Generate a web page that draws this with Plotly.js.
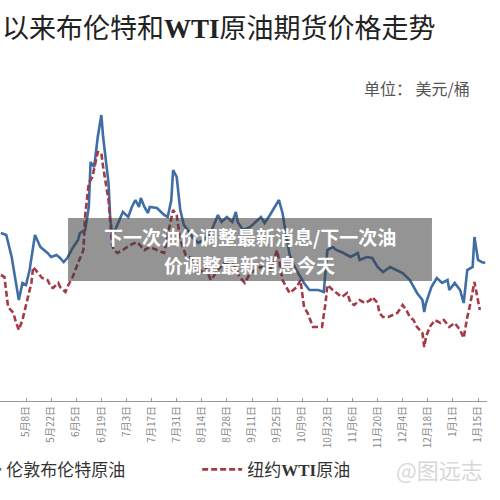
<!DOCTYPE html>
<html>
<head>
<meta charset="utf-8">
<script src="https://cdn.plot.ly/plotly-3.0.1.min.js"></script>
<style>html,body{margin:0;padding:0;background:#fff;}#chart{width:500px;height:500px;}</style>
</head>
<body>
<div id="chart"></div>
<script>
const brentDates = ['2022-04-24','2022-04-27','2022-04-30','2022-05-02','2022-05-04','2022-05-06','2022-05-08','2022-05-10','2022-05-12','2022-05-13','2022-05-15','2022-05-16','2022-05-18','2022-05-20','2022-05-22','2022-05-25','2022-05-27','2022-05-29','2022-05-31','2022-06-03','2022-06-06','2022-06-07','2022-06-10','2022-06-12','2022-06-13','2022-06-15','2022-06-17','2022-06-19','2022-06-20','2022-06-23','2022-06-24','2022-06-25','2022-06-26','2022-06-28','2022-07-01','2022-07-04','2022-07-06','2022-07-08','2022-07-10','2022-07-11','2022-07-13','2022-07-15','2022-07-16','2022-07-20','2022-07-24','2022-07-26','2022-07-28','2022-07-29','2022-07-31','2022-08-02','2022-08-04','2022-08-07','2022-08-09','2022-08-12','2022-08-15','2022-08-18','2022-08-20','2022-08-23','2022-08-25','2022-08-28','2022-08-31','2022-09-02','2022-09-03','2022-09-06','2022-09-10','2022-09-13','2022-09-16','2022-09-18','2022-09-21','2022-09-26','2022-09-28','2022-09-30','2022-10-02','2022-10-05','2022-10-10','2022-10-13','2022-10-18','2022-10-21','2022-10-23','2022-10-26','2022-10-28','2022-11-01','2022-11-05','2022-11-09','2022-11-10','2022-11-14','2022-11-17','2022-11-20','2022-11-23','2022-11-27','2022-12-01','2022-12-04','2022-12-08','2022-12-12','2022-12-15','2022-12-16','2022-12-17','2022-12-20','2022-12-23','2022-12-26','2022-12-29','2022-12-30','2023-01-02','2023-01-05','2023-01-07','2023-01-09','2023-01-12','2023-01-13','2023-01-15','2023-01-17','2023-01-19'];
const brentValues = [93.6,93.2,88.8,84.8,80.2,83.6,83.2,86.2,90.8,93.2,91.6,90.8,90.2,89.6,88.8,89.2,88.6,87.8,88.6,90.6,92.2,93.6,94.2,98.8,107.8,106.8,112.8,117.2,112.8,103.6,96.2,93.6,93.6,95.2,97.8,96.8,98.8,100.2,98.8,100.6,98.8,97.6,98.8,98.6,97.2,96.8,100.2,106.2,104.8,98.2,95.2,93.8,92.6,91.6,92.2,93.2,94.6,97.2,95.8,96.8,95.8,97.8,95.8,94.2,94.8,95.8,96.8,95.6,97.2,100.2,97.6,93.2,89.2,86.6,83.6,82.2,82.2,81.8,90.2,90.8,90.2,89.6,88.8,89.6,88.2,88.8,88.6,86.8,85.8,86.8,86.2,85.6,84.2,81.6,80.2,77.8,79.6,82.8,84.6,83.6,84.2,82.2,83.6,82.2,79.6,86.2,86.8,92.8,88.2,87.8,87.6];

const wtiDates = ['2022-04-24','2022-04-26','2022-04-28','2022-05-01','2022-05-02','2022-05-04','2022-05-06','2022-05-07','2022-05-09','2022-05-11','2022-05-12','2022-05-15','2022-05-17','2022-05-20','2022-05-22','2022-05-23','2022-05-26','2022-05-27','2022-05-30','2022-05-31','2022-06-03','2022-06-06','2022-06-09','2022-06-10','2022-06-12','2022-06-14','2022-06-16','2022-06-17','2022-06-19','2022-06-20','2022-06-23','2022-06-24','2022-06-25','2022-06-26','2022-06-28','2022-07-01','2022-07-05','2022-07-09','2022-07-13','2022-07-16','2022-07-20','2022-07-24','2022-07-26','2022-07-29','2022-07-31','2022-08-02','2022-08-05','2022-08-08','2022-08-10','2022-08-13','2022-08-16','2022-08-19','2022-08-23','2022-08-27','2022-09-01','2022-09-04','2022-09-07','2022-09-10','2022-09-16','2022-09-21','2022-09-25','2022-09-28','2022-10-01','2022-10-02','2022-10-06','2022-10-08','2022-10-10','2022-10-12','2022-10-15','2022-10-17','2022-10-20','2022-10-22','2022-10-23','2022-10-26','2022-10-28','2022-10-31','2022-11-03','2022-11-05','2022-11-07','2022-11-10','2022-11-13','2022-11-16','2022-11-17','2022-11-20','2022-11-21','2022-11-23','2022-11-26','2022-11-29','2022-12-01','2022-12-04','2022-12-06','2022-12-08','2022-12-10','2022-12-12','2022-12-15','2022-12-16','2022-12-17','2022-12-19','2022-12-22','2022-12-25','2022-12-27','2022-12-30','2023-01-02','2023-01-05','2023-01-07','2023-01-09','2023-01-10','2023-01-13','2023-01-15','2023-01-16'];
const wtiValues = [85.2,84.8,78.8,77.6,76.2,74.2,76.2,77.6,80.8,83.6,86.8,85.6,84.6,84.2,82.8,82.6,83.6,82.8,81.8,82.8,84.8,87.6,90.2,97.2,103.6,104.8,108.2,109.8,109.6,106.8,100.2,95.2,91.2,90.2,89.6,90.2,91.2,91.8,90.2,90.8,90.2,89.6,93.2,98.2,97.2,92.2,89.2,88.6,87.2,85.6,86.8,84.2,86.2,87.8,87.2,84.8,83.6,85.6,86.8,86.2,90.2,84.2,82.2,81.6,82.8,84.2,78.8,77.6,74.8,74.8,74.8,79.6,83.2,82.2,81.6,80.8,81.6,79.6,79.2,80.2,79.6,80.2,80.8,79.6,77.6,76.8,76.8,77.2,77.6,79.2,78.2,76.8,76.2,74.8,73.6,70.8,72.8,74.8,76.2,75.6,76.2,74.8,75.6,74.2,72.6,76.8,78.2,83.8,79.6,78.2];

const tickDates = ['2022-04-24','2022-05-08','2022-05-22','2022-06-05','2022-06-19','2022-07-03','2022-07-17','2022-07-31','2022-08-14','2022-08-28','2022-09-11','2022-09-25','2022-10-09','2022-10-23','2022-11-06','2022-11-20','2022-12-04','2022-12-18','2023-01-01','2023-01-15'];
const tickLabels = ['4月24日','5月8日','5月22日','6月5日','6月19日','7月3日','7月17日','7月31日','8月14日','8月28日','9月11日','9月25日','10月9日','10月23日','11月6日','11月20日','12月4日','12月18日','1月1日','1月15日'];

const SERIF_B = 'font-family:Liberation Serif, DejaVu Serif, serif;font-weight:bold';
const seriesNames = ['伦敦布伦特原油', '纽约<span style="' + SERIF_B + '">WTI</span>原油'];
const titleText = '以来布伦特和<span style="' + SERIF_B + '">WTI</span>原油期货价格走势';
const unitText = '单位： 美元/桶';
const bannerLine1 = '下一次油价调整最新消息/下一次油';
const bannerLine2 = '价调整最新消息今天';
const watermarkText = '@图远志';

const CJK = '"Noto Sans CJK SC", "Noto Sans", sans-serif';

const traces = [
  {x: brentDates, y: brentValues, name: seriesNames[0], type: 'scatter', mode: 'lines',
   line: {color: '#3f6ea6', width: 2.6}},
  {x: wtiDates, y: wtiValues, name: seriesNames[1], type: 'scatter', mode: 'lines',
   line: {color: '#a33a46', width: 2.6, dash: '6px,3px'}}
];

const layout = {
  width: 500, height: 500,
  margin: {l: 0, r: 13, t: 70, b: 99, autoexpand: false},
  paper_bgcolor: '#fff', plot_bgcolor: '#fff',
  showlegend: true,
  legend: {orientation: 'h', x: -0.09, xanchor: 'left', y: -0.208, yanchor: 'middle',
    font: {family: CJK, size: 17, color: '#333'}, entrywidth: 186, itemwidth: 40},
  xaxis: {type: 'date', range: ['2022-04-23 12:00', '2023-01-20'], showgrid: false, zeroline: false,
    showline: true, linecolor: '#999', linewidth: 1,
    ticks: 'inside', ticklen: 3, tickcolor: '#999',
    tickmode: 'array', tickvals: tickDates, ticktext: tickLabels, tickangle: -90,
    tickfont: {family: CJK, size: 10, color: '#888'}},
  yaxis: {range: [60, 126.2], visible: false, showgrid: false, zeroline: false},
  shapes: [
    {type: 'rect', xref: 'paper', yref: 'paper', x0: 0.1396, x1: 0.887, y0: 0.3625, y1: 0.5529,
     fillcolor: 'rgba(60,60,60,0.55)', line: {width: 0}, layer: 'above'}
  ],
  annotations: [
    {text: titleText, xref: 'paper', yref: 'paper', x: 0.899, y: 1.13, xanchor: 'right', yanchor: 'middle',
     showarrow: false, font: {family: CJK, size: 27, color: '#222'}},
    {text: unitText, xref: 'paper', yref: 'paper', x: 0.97, y: 0.9456, xanchor: 'right', yanchor: 'middle',
     showarrow: false, font: {family: CJK, size: 16, color: '#555'}},
    {text: '<b>' + bannerLine1 + '</b>', xref: 'paper', yref: 'paper', x: 0.5133, y: (401 - 236) / 331, xanchor: 'center', yanchor: 'middle',
     showarrow: false, font: {family: CJK, size: 19, color: '#fff'}},
    {text: '<b>' + bannerLine2 + '</b>', xref: 'paper', yref: 'paper', x: 0.5133, y: (401 - 264) / 331, xanchor: 'center', yanchor: 'middle',
     showarrow: false, font: {family: CJK, size: 19, color: '#fff'}},
    {text: watermarkText, xref: 'paper', yref: 'paper', x: 0.995, y: -0.205, xanchor: 'right', yanchor: 'middle',
     showarrow: false, font: {family: CJK, size: 22, color: '#d8d8d8'}}
  ]
};

Plotly.newPlot('chart', traces, layout, {displayModeBar: false, staticPlot: true});
</script>
</body>
</html>
